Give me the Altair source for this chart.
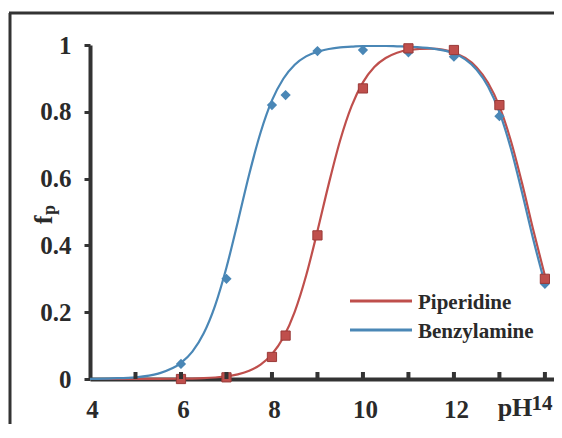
import altair as alt
import pandas as pd

# ---- data ----
ph_points = [6, 7, 8, 8.3, 9, 10, 11, 12, 13, 14]
piperidine_points = [0.0, 0.005, 0.066, 0.13, 0.43, 0.87, 0.99, 0.985, 0.82, 0.30]
benzylamine_points = [0.045, 0.30, 0.82, 0.85, 0.982, 0.985, 0.978, 0.965, 0.787, 0.285]

curve_ph = [4, 4.5, 5, 5.5, 6, 6.25, 6.5, 6.75, 7, 7.25, 7.5, 7.75, 8, 8.25, 8.5,
            8.75, 9, 9.25, 9.5, 9.75, 10, 10.25, 10.5, 10.75, 11, 11.5, 12, 12.25,
            12.5, 12.75, 13, 13.25, 13.5, 13.75, 14]
piperidine_curve = [0.0, 0.0, 0.0001, 0.0003, 0.0008, 0.0014, 0.0025, 0.0045, 0.0079,
                    0.014, 0.0245, 0.043, 0.074, 0.124, 0.201, 0.309, 0.443, 0.585,
                    0.715, 0.817, 0.888, 0.934, 0.961, 0.977, 0.985, 0.989, 0.977,
                    0.961, 0.933, 0.887, 0.816, 0.714, 0.585, 0.443, 0.309]
benzylamine_curve = [0.0005, 0.002, 0.005, 0.016, 0.048, 0.082, 0.137, 0.22, 0.334,
                     0.471, 0.613, 0.738, 0.834, 0.899, 0.941, 0.966, 0.98, 0.988,
                     0.993, 0.995, 0.997, 0.997, 0.997, 0.996, 0.995, 0.99, 0.975,
                     0.957, 0.926, 0.876, 0.799, 0.691, 0.557, 0.415, 0.285]

x_label_values = [4, 6, 8, 10, 12]
x_tick_values = [5, 6, 7, 8, 9, 10, 11, 12, 13, 14]
y_tick_values = [0, 0.2, 0.4, 0.6, 0.8, 1]
series_names = ["Piperidine", "Benzylamine"]

RED = "#bf4f4c"
BLUE = "#4a87b6"
INK = "#2a2a2a"
FONT = "Liberation Serif"

W, H = 464, 334

pts = pd.DataFrame({"pH": ph_points, "Piperidine": piperidine_points,
                    "Benzylamine": benzylamine_points})
crv = pd.DataFrame({"pH": curve_ph, "Piperidine": piperidine_curve,
                    "Benzylamine": benzylamine_curve})
ticks_df = pd.DataFrame({"pH": x_tick_values})
one = alt.Data(values=[{"a": 1}])

xs = alt.Scale(domain=[4, 14.2], nice=False, zero=False)
ys = alt.Scale(domain=[0, 1], nice=False)

x_axis = alt.Axis(values=x_label_values, ticks=False, grid=False, title=None,
                  labelFont=FONT, labelFontWeight="bold", labelFontSize=25,
                  labelColor=INK, labelPadding=18, labelFlush=False, labelOffset=2,
                  labelOverlap=False, domainColor="#333", domainWidth=4)
y_axis = alt.Axis(values=y_tick_values, format="~g", grid=False, title=None,
                  labelFont=FONT, labelFontWeight="bold", labelFontSize=25,
                  labelColor=INK, labelPadding=13, labelFlush=False,
                  labelOverlap=False, tickSize=6, tickWidth=3, tickColor="#333",
                  domainColor="#333", domainWidth=4)

# frame
frame_left = alt.Chart(one).mark_rule(color="#333", strokeWidth=3).encode(
    x=alt.value(-80), y=alt.value(-32), y2=alt.value(H + 50))
frame_top = alt.Chart(one).mark_rule(color="#333", strokeWidth=3).encode(
    x=alt.value(-81), x2=alt.value(W + 2), y=alt.value(-32))

red_line = alt.Chart(crv).mark_line(color=RED, strokeWidth=2.2, interpolate="monotone").encode(
    x=alt.X("pH:Q", scale=xs, axis=x_axis),
    y=alt.Y("Piperidine:Q", scale=ys, axis=y_axis))
blue_line = alt.Chart(crv).mark_line(color=BLUE, strokeWidth=2.2, interpolate="monotone").encode(
    x=alt.X("pH:Q", scale=xs), y=alt.Y("Benzylamine:Q", scale=ys))

blue_pts = alt.Chart(pts).mark_point(shape="diamond", filled=True, size=105, color=BLUE,
                                      opacity=1).encode(
    x=alt.X("pH:Q", scale=xs), y=alt.Y("Benzylamine:Q", scale=ys))
red_pts = alt.Chart(pts).mark_square(size=85, color=RED, stroke="#9a3a38",
                                     strokeWidth=1, opacity=1).encode(
    x=alt.X("pH:Q", scale=xs), y=alt.Y("Piperidine:Q", scale=ys))

x_ticks = alt.Chart(ticks_df).mark_rule(color="#333", strokeWidth=4).encode(
    x=alt.X("pH:Q", scale=xs), y=alt.value(H - 7), y2=alt.value(H))

ph_text = alt.Chart(one).mark_text(text="pH", font=FONT, fontWeight="bold", fontSize=26,
                                   color=INK, align="center", baseline="alphabetic").encode(
    x=alt.value(425), y=alt.value(371))
fourteen = alt.Chart(one).mark_text(text="14", font=FONT, fontWeight="bold", fontSize=21,
                                    color=INK, align="center", baseline="alphabetic").encode(
    x=alt.value(452), y=alt.value(365))

f_text = alt.Chart(one).mark_text(text="f", font=FONT, fontWeight="bold", fontSize=26,
                                  color=INK, align="center", baseline="alphabetic",
                                  angle=270).encode(x=alt.value(-38), y=alt.value(175))
p_text = alt.Chart(one).mark_text(text="p", font=FONT, fontWeight="bold", fontSize=18,
                                  color=INK, align="center", baseline="alphabetic",
                                  angle=270).encode(x=alt.value(-35), y=alt.value(165))

leg_red = alt.Chart(one).mark_rule(color=RED, strokeWidth=3).encode(
    x=alt.value(260), x2=alt.value(322), y=alt.value(256))
leg_blue = alt.Chart(one).mark_rule(color=BLUE, strokeWidth=3).encode(
    x=alt.value(260), x2=alt.value(322), y=alt.value(285))
leg_t1 = alt.Chart(one).mark_text(text=series_names[0], font=FONT, fontWeight="bold",
                                  fontSize=21, color=INK, align="left",
                                  baseline="middle").encode(x=alt.value(328), y=alt.value(258))
leg_t2 = alt.Chart(one).mark_text(text=series_names[1], font=FONT, fontWeight="bold",
                                  fontSize=21, color=INK, align="left",
                                  baseline="middle").encode(x=alt.value(328), y=alt.value(287))

chart = alt.layer(
    frame_left, frame_top, red_line, blue_line, blue_pts, red_pts, x_ticks,
    ph_text, fourteen, f_text, p_text, leg_red, leg_blue, leg_t1, leg_t2
).properties(
    width=W, height=H,
    autosize=alt.AutoSizeParams(type="none"),
    padding={"left": 82, "top": 37, "right": 0, "bottom": 45},
    background="white",
).configure_view(stroke=None)

chart.save("out.html", embed_options={"renderer": "svg", "actions": False})
